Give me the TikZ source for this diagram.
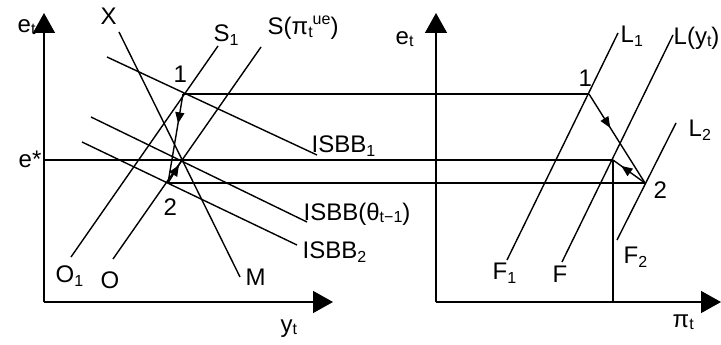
\documentclass[tikz,border=0pt]{standalone}
\usepackage{fontspec}
\setmainfont{Liberation Sans}
\usetikzlibrary{arrows.meta,decorations.markings}
\newcommand\dn[1]{\raisebox{-4pt}{\fontsize{16}{16}\selectfont #1}}
\newcommand\dnn[1]{\raisebox{-2pt}{\fontsize{16}{16}\selectfont #1}}
\newcommand\upp[1]{\raisebox{10pt}{\fontsize{16}{16}\selectfont #1}}
\begin{document}
\begin{tikzpicture}[x=1pt,y=-1pt,line width=1.4pt,
  lbl/.style={inner sep=0pt,anchor=base west,font=\fontsize{24}{28}\selectfont},
  axisarrow/.style={-{Triangle[length=20pt,width=22pt]}},
  midarrow/.style={postaction={decorate},decoration={markings,mark=at position #1 with {\arrow{Triangle[length=11pt,width=9pt]}}}}]
\useasboundingbox (0,0) rectangle (721,345);
% axes left
\coordinate (LO) at (44,302);
\coordinate (LT) at (44,13);
\coordinate (LR) at (333,302);
\draw[axisarrow] (LO) -- (LT);
\draw[axisarrow] (LO) -- (LR);
% axes right
\coordinate (RO) at (436,302);
\coordinate (RT) at (436,13);
\coordinate (RR) at (721,302);
\draw[axisarrow] (RO) -- (RT);
\draw[axisarrow] (RO) -- (RR);
% left curves
\coordinate (Xa) at (119,32); \coordinate (Mb) at (240,277);
\coordinate (S1a) at (218,46); \coordinate (O1b) at (71,257);
\coordinate (Sa) at (261,47); \coordinate (Ob) at (113,259);
\coordinate (I1a) at (107,57); \coordinate (I1b) at (317,155);
\coordinate (Ita) at (91,117); \coordinate (Itb) at (307,222);
\coordinate (I2a) at (82,142); \coordinate (I2b) at (297,245);
\draw (Xa) -- (Mb);
\draw (S1a) -- (O1b);
\draw (Sa) -- (Ob);
\draw (I1a) -- (I1b);
\draw (Ita) -- (Itb);
\draw (I2a) -- (I2b);
% key points
\coordinate (P1) at (183,94);
\coordinate (P2) at (168,183);
\coordinate (PE) at (182,160);
\coordinate (EL) at (44,160);
\coordinate (R1) at (589,94);
\coordinate (R2) at (645,183);
\coordinate (RE) at (613,160);
\coordinate (RB) at (613,302);
% horizontal links
\draw (P1) -- (R1);
\draw (EL) -- (RE);
\draw (P2) -- (R2);
\draw (RE) -- (RB);
% right curves
\coordinate (L1a) at (618,33); \coordinate (F1b) at (507,260);
\coordinate (La) at (673,35); \coordinate (Fb) at (562,262);
\coordinate (L2a) at (676,123); \coordinate (F2b) at (617,240);
\draw (L1a) -- (F1b);
\draw (La) -- (Fb);
\draw (L2a) -- (F2b);
% adjustment arrows
\draw[midarrow=0.33] (P1) -- (P2);
\draw[midarrow=0.78] (P2) -- (PE);
\draw[midarrow=0.38] (R1) -- (R2);
\draw[midarrow=0.74] (R2) -- (RE);
% labels left
\node[lbl] (tEt) at (17,33) {e\dnn{t}};
\node[lbl] (tX) at (100,25) {X};
\node[lbl] (tS1) at (213,42) {S\dn{1}};
\node[lbl] (tS) at (267,35) {S(π\dnn{t}\upp{ue})};
\node[lbl] (tP1) at (173,83) {1};
\node[lbl] (tI1) at (311,152) {ISBB\dn{1}};
\node[lbl] (tEs) at (18,167) {e*};
\node[lbl] (tP2) at (163,215) {2};
\node[lbl] (tIt) at (303,220) {ISBB(θ\dnn{t−1})};
\node[lbl] (tI2) at (302,258) {ISBB\dn{2}};
\node[lbl] (tO1) at (55,282) {O\dn{1}};
\node[lbl] (tO) at (100,288) {O};
\node[lbl] (tM) at (245,285) {M};
\node[lbl] (tY) at (280,332) {y\dnn{t}};
% labels right
\node[lbl] (tEt2) at (395,45) {e\dnn{t}};
\node[lbl] (tL1) at (620,43) {L\dn{1}};
\node[lbl] (tL) at (673,45) {L(y\dnn{t})};
\node[lbl] (tR1) at (578,87) {1};
\node[lbl] (tL2) at (688,136) {L\dn{2}};
\node[lbl] (tR2) at (653,198) {2};
\node[lbl] (tF1) at (492,279) {F\dn{1}};
\node[lbl] (tF) at (552,282) {F};
\node[lbl] (tF2) at (623,263) {F\dn{2}};
\node[lbl] (tPi) at (672,327) {π\dnn{t}};
\end{tikzpicture}
\end{document}
